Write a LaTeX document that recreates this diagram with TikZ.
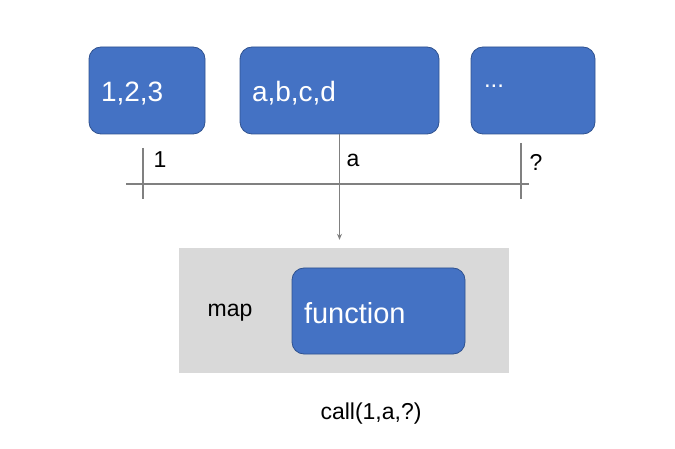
\documentclass[tikz,border=0pt]{standalone}
\usepackage{fontspec}
\setmainfont{Liberation Sans}
\usepackage{xcolor}
\usetikzlibrary{positioning, calc, arrows.meta}
\definecolor{boxblue}{HTML}{4472C4}
\definecolor{boxedge}{HTML}{2F528F}
\definecolor{mapgray}{HTML}{D9D9D9}
\definecolor{linegray}{HTML}{808080}
\newcommand{\lowertext}[2]{\raisebox{-#1}[\height][\depth]{#2}}
\tikzset{
  databox/.style={draw=boxedge, line width=0.8pt, fill=boxblue, rounded corners=12pt,
    text=white, minimum height=87pt, inner xsep=12pt, inner ysep=0pt, align=left,
    font=\fontsize{28}{30}\selectfont},
  bar/.style={draw=linegray, line width=1.6pt},
  smalllabel/.style={font=\fontsize{23}{25}\selectfont, inner sep=0pt}
}

\begin{document}
\begin{tikzpicture}[x=1pt, y=-1pt, >={Stealth[length=6pt, width=5pt]}]
    \useasboundingbox (0,0) rectangle (675,449);

    % --- Top Boxes ---
    \node[databox, text width=92pt] (nums) at (147,90.5) {\lowertext{3pt}{1,2,3}};
    \node[databox, text width=175pt] (letters) at (339.5,90.5) {\lowertext{3pt}{a,b,c,d}};
    \node[databox, text width=98pt, inner xsep=13pt] (more) at (533,90.5)
        {\raisebox{9pt}{\fontsize{24}{26}\selectfont ...}};

    % --- Map Area ---
    \node[fill=mapgray, minimum width=330pt, minimum height=125pt, inner sep=0pt] (map) at (344,310.5) {};
    \node[smalllabel] (maplabel) at (230,313) {map};
    \node[databox, text width=149pt, minimum height=86pt, font=\fontsize{29}{31}\selectfont] (func) at (378.5,311) {\lowertext{2pt}{function}};
    \node[smalllabel] (call) at (371,414) {call(1,a,?)};

    % --- Selection Bar ---
    \coordinate (barleft) at (126,184);
    \coordinate (barright) at (529,184);
    \draw[bar] (barleft) -- (barright);
    \draw[bar] (143,148) -- (143,199); % tick under the first box
    \draw[bar] (521,143) -- (521,199); % tick under the last box

    % --- Middle Arrow straight down into the map ---
    \draw[bar, ->, fill=linegray] (letters.south) -- (letters.south |- {$(map.north)+(0,-8)$});

    % --- Picked Values ---
    \node[smalllabel] (pick1) at (160,160) {1};
    \node[smalllabel] (picka) at (353,160) {a};
    \node[smalllabel] (pickq) at (536,162) {?};

\end{tikzpicture}
\end{document}
